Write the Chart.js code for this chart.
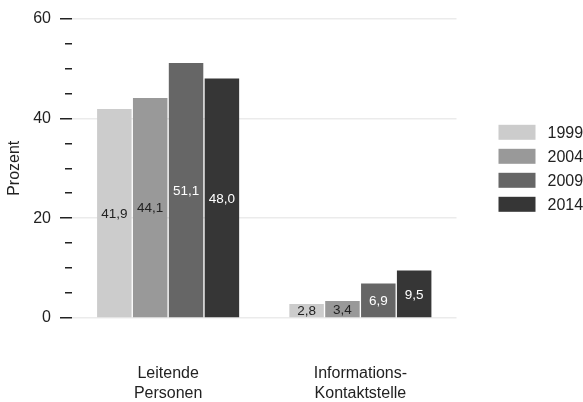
<!DOCTYPE html>
<html>
<head>
<meta charset="utf-8">
<script src="https://cdn.jsdelivr.net/npm/chart.js@4"></script>
<style>
    html, body { margin: 0; padding: 0; background: #fff; }
    #wrap { width: 583px; height: 402px; }
</style>
</head>
<body>
<div id="wrap"><canvas id="bar-chart" width="583" height="402"></canvas></div>
<script>
// Chart data
const categories = [['Leitende', 'Personen'], ['Informations-', 'Kontaktstelle']];
const years = ['1999', '2004', '2009', '2014'];
const values1999 = [41.9, 2.8];
const values2004 = [44.1, 3.4];
const values2009 = [51.1, 6.9];
const values2014 = [48.0, 9.5];
const barColors = ['#cccccc', '#999999', '#666666', '#363636'];
const labelColors = ['#222222', '#222222', '#ffffff', '#ffffff'];

const FONT = 'Liberation Sans, Arial, Helvetica, sans-serif';
let barChart = null;

document.addEventListener('DOMContentLoaded', () => {
    initializeChart();
});

function formatValue(value) {
    return value.toFixed(1).replace('.', ',');
}

// Value labels in the middle of each bar
const barLabelsPlugin = {
    id: 'barLabels',
    afterDatasetsDraw(chart) {
        const ctx = chart.ctx;
        ctx.save();
        ctx.font = '13.5px ' + FONT;
        ctx.textAlign = 'center';
        ctx.textBaseline = 'middle';
        chart.data.datasets.forEach((dataset, i) => {
            const meta = chart.getDatasetMeta(i);
            meta.data.forEach((bar, j) => {
                ctx.fillStyle = labelColors[i];
                ctx.fillText(formatValue(dataset.data[j]), bar.x, (bar.y + bar.base) / 2 + 1);
            });
        });
        ctx.restore();
    }
};

// Legend on the right, centered on the plot area
const sideLegendPlugin = {
    id: 'sideLegend',
    afterDraw(chart) {
        const ctx = chart.ctx;
        const area = chart.chartArea;
        const mid = (area.top + area.bottom) / 2;
        const n = chart.data.datasets.length;
        ctx.save();
        ctx.font = '16px ' + FONT;
        ctx.textBaseline = 'middle';
        ctx.textAlign = 'left';
        chart.data.datasets.forEach((dataset, i) => {
            const y = mid + (i - (n - 1) / 2) * 24;
            ctx.fillStyle = dataset.backgroundColor;
            ctx.fillRect(area.right + 42, y - 7.5, 37, 15);
            ctx.fillStyle = '#222222';
            ctx.fillText(dataset.label, area.right + 91, y + 1);
        });
        ctx.restore();
    }
};

function initializeChart() {
    const ctx = document.getElementById('bar-chart').getContext('2d');
    const series = [values1999, values2004, values2009, values2014];

    barChart = new Chart(ctx, {
        type: 'bar',
        data: {
            labels: categories,
            datasets: years.map((year, i) => ({
                label: year,
                data: series[i],
                backgroundColor: barColors[i],
                borderWidth: 0,
                barPercentage: 0.962,
                categoryPercentage: 0.746
            }))
        },
        options: {
            responsive: false,
            animation: false,
            devicePixelRatio: 1,
            layout: {
                padding: { top: 18, right: 126.5, bottom: 0, left: 0 }
            },
            plugins: {
                legend: { display: false },
                tooltip: { enabled: false }
            },
            scales: {
                x: {
                    grid: { display: false, drawTicks: false },
                    border: { display: false },
                    ticks: {
                        color: '#222222',
                        padding: 46,
                        maxRotation: 0,
                        font: { family: FONT, size: 16, lineHeight: 1.25 }
                    },
                    afterFit: (scale) => { scale.height = 84; }
                },
                y: {
                    min: 0,
                    max: 60,
                    border: { display: false },
                    grid: {
                        color: (c) => (c.tick && c.tick.value % 20 === 0) ? '#ebebeb' : 'rgba(0,0,0,0)',
                        lineWidth: 1.5,
                        drawTicks: true,
                        tickLength: 12,
                        tickColor: '#222222',
                        tickWidth: 1.5,
                        // minor ticks are shorter: skip the first 5px
                        tickBorderDash: (c) => (c.tick && c.tick.value % 20 === 0) ? [] : [0, 5, 7, 100]
                    },
                    ticks: {
                        stepSize: 5,
                        autoSkip: false,
                        color: '#222222',
                        padding: 9,
                        font: { family: FONT, size: 16 },
                        callback: (value) => value % 20 === 0 ? value : ''
                    },
                    title: {
                        display: true,
                        text: 'Prozent',
                        color: '#222222',
                        padding: { top: 5, bottom: 0 },
                        font: { family: FONT, size: 16 }
                    },
                    afterFit: (scale) => { scale.width = 72; }
                }
            }
        },
        plugins: [barLabelsPlugin, sideLegendPlugin]
    });
}
</script>
</body>
</html>
